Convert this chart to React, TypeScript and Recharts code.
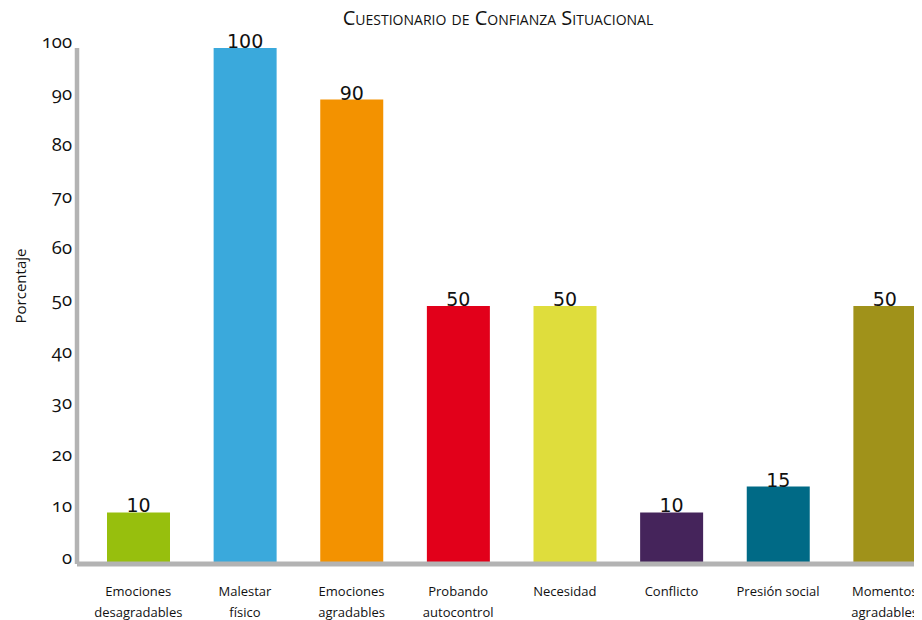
import React from 'react';
import { BarChart, Bar, XAxis, YAxis, Cell, LabelList } from 'recharts';

const categories = [
  'Emociones\ndesagradables',
  'Malestar\nfísico',
  'Emociones\nagradables',
  'Probando\nautocontrol',
  'Necesidad',
  'Conflicto',
  'Presión social',
  'Momentos\nagradables',
];
const values = [10, 100, 90, 50, 50, 10, 15, 50];
const colors = ['#97bf0d', '#3aa9dc', '#f39200', '#e2001a', '#dfdd3c', '#45245b', '#006a86', '#a0921a'];
const yTicks = [0, 10, 20, 30, 40, 50, 60, 70, 80, 90, 100];

const data = categories.map((name, i) => ({ name, value: values[i] }));

const sans = '"Open Sans", "Noto Sans", sans-serif';

const CategoryTick = (props: any) => {
  const { x, y, payload } = props;
  const lines = String(payload.value).split('\n');
  return (
    <text x={x} y={y} textAnchor="middle" fontFamily={sans} fontSize={13} fill="#111">
      {lines.map((l, i) => (
        <tspan key={i} x={x} y={y + 32 + i * 21}>{l}</tspan>
      ))}
    </text>
  );
};

const NumberTick = (props: any) => {
  const { x, y, payload } = props;
  return (
    <text x={x} y={y} textAnchor="end" fontFamily={sans} fontSize={18.5} fill="#111"
      style={{ fontVariantNumeric: 'oldstyle-nums' }}>
      {payload.value}
    </text>
  );
};

const ValueLabel = (props: any) => {
  const { x, y, width, value } = props;
  return (
    <text x={x + width / 2} y={y} textAnchor="middle" fontFamily="DejaVu Sans, sans-serif" fontSize={19} fill="#111">
      {value}
    </text>
  );
};

const AxisTitle = (props: any) => {
  const { viewBox } = props;
  const cy = viewBox.y + viewBox.height / 2 - 20;
  return (
    <text x={18} y={cy} transform={`rotate(-90, 18, ${cy})`} textAnchor="middle" fontFamily={sans} fontSize={15} fill="#111">
      Porcentaje
    </text>
  );
};

export default function App() {
  return (
    <div style={{ position: 'relative', width: 914, height: 612 }}>
      <div style={{ width: 914, height: 612, overflow: 'hidden', background: '#fff' }}>
        <BarChart width={940} height={612} data={data} margin={{ top: 40, right: 10, bottom: 6, left: 0 }}>
          <XAxis dataKey="name" interval={0} tickLine={false} tickSize={0} tickMargin={0} height={50}
            padding={{ left: 8, right: 0 }} stroke="#b3b3b3" strokeWidth={5} tick={<CategoryTick />} />
          <YAxis domain={[0, 100]} ticks={yTicks} width={69} tickLine={false} tickSize={0} tickMargin={5}
            stroke="#b3b3b3" strokeWidth={4.5} tick={<NumberTick />} label={<AxisTitle />} />
          <Bar dataKey="value" barSize={63} isAnimationActive={false}>
            {data.map((d, i) => <Cell key={d.name} fill={colors[i]} />)}
            <LabelList dataKey="value" content={<ValueLabel />} />
          </Bar>
        </BarChart>
      </div>
      <div style={{
        position: 'absolute', top: -4, left: 490, transform: 'translateX(-50%)', whiteSpace: 'nowrap',
        fontFamily: sans, fontSize: 20, lineHeight: '28px', fontVariant: 'small-caps', color: '#111',
      }}>
        Cuestionario de Confianza Situacional
      </div>
    </div>
  );
}
